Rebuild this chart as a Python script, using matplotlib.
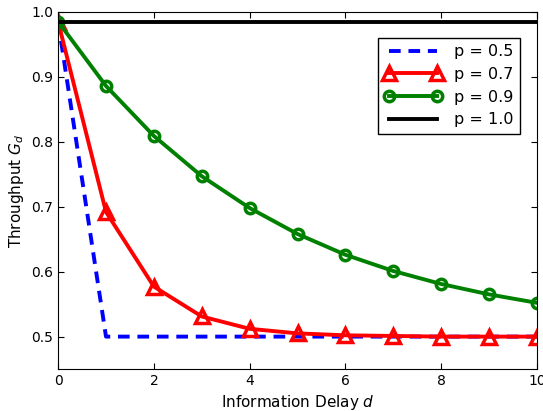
import matplotlib
matplotlib.use("Agg")
import matplotlib.pyplot as plt

delay = [0, 1, 2, 3, 4, 5, 6, 7, 8, 9, 10]
g_p05 = [0.985, 0.5, 0.5, 0.5, 0.5, 0.5, 0.5, 0.5, 0.5, 0.5, 0.5]
g_p07 = [0.985, 0.692, 0.577, 0.531, 0.512, 0.505, 0.502, 0.501, 0.5, 0.5, 0.5]
g_p09 = [0.985, 0.886, 0.809, 0.747, 0.698, 0.658, 0.626, 0.601, 0.581, 0.565, 0.552]
g_p10 = [0.985] * len(delay)

plt.rcParams["xtick.direction"] = "in"
plt.rcParams["ytick.direction"] = "in"
plt.rcParams["xtick.top"] = True
plt.rcParams["ytick.right"] = True
plt.rcParams["mathtext.fontset"] = "dejavusans"

fig = plt.figure(figsize=(5.43, 4.11), dpi=100)
ax = fig.add_axes([0.107, 0.102, 0.882, 0.869])

ax.plot(delay, g_p05, "b--", lw=2.8, dashes=(3, 2), label="p = 0.5")
ax.plot(delay, g_p07, "r-", lw=2.8, marker="^", ms=10, mfc="none", mew=2.5, label="p = 0.7")
ax.plot(delay, g_p09, "g-", lw=2.8, marker="o", ms=7.5, mfc="none", mew=2.5, label="p = 0.9")
ax.plot(delay, g_p10, "k-", lw=2.8, label="p = 1.0")

ax.set_xlim(0, 10)
ax.set_ylim(0.45, 1.0)
ax.set_xticks([0, 2, 4, 6, 8, 10])
ax.set_yticks([0.5, 0.6, 0.7, 0.8, 0.9, 1.0])
ax.tick_params(labelsize=10, length=4)
ax.set_xlabel("Information Delay $d$", fontsize=11)
ax.set_ylabel("Throughput $G_d$", fontsize=11)

leg = ax.legend(loc="upper right", bbox_to_anchor=(0.965, 0.927), fontsize=11.5,
                fancybox=False, framealpha=1, edgecolor="black", borderaxespad=0,
                handlelength=3.6, numpoints=2, labelspacing=0.48)
leg.get_frame().set_linewidth(1.0)

fig.savefig("out.png", dpi=100)
